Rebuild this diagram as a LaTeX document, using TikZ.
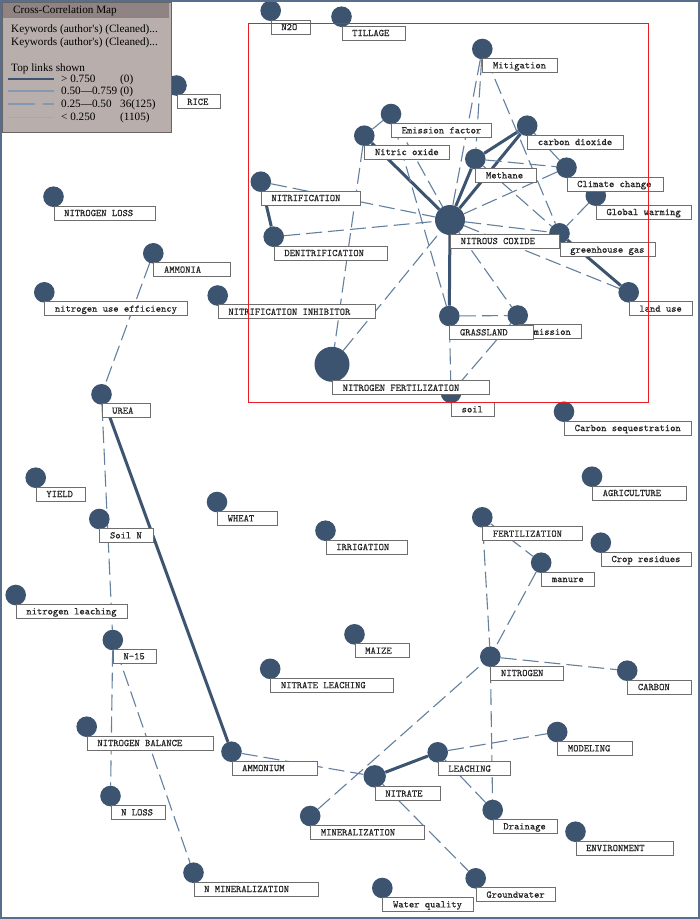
\documentclass[tikz,border=0pt]{standalone}
\usepackage{fontspec}
\newfontfamily\legendfont{Liberation Serif}
\newfontfamily\kwfont[FakeBold=0.6]{lmmono10-regular.otf}
\usetikzlibrary{backgrounds}
\definecolor{nodeblue}{RGB}{61,84,112}
\definecolor{linkblue}{RGB}{100,128,158}
\definecolor{legbg}{RGB}{184,174,172}
\definecolor{legtitle}{RGB}{143,132,131}
\definecolor{legedge}{RGB}{105,100,100}
\definecolor{framec}{RGB}{88,110,140}
\definecolor{boxgray}{RGB}{110,110,110}
\definecolor{redbox}{RGB}{232,30,36}
\tikzset{
  kwdot/.style={circle, fill=nodeblue, inner sep=0pt, minimum size={2*#1}},
  kwbox/.style={draw=boxgray, line width=0.8pt, fill=white, inner sep=0pt, minimum height=14pt, anchor=north west},
  kwtext/.style={anchor=base west, inner sep=0pt, text=black!85, font=\kwfont\fontsize{10.1}{12}\selectfont},
  strong/.style={draw=nodeblue, line width=3pt},
  weak/.style={draw=linkblue, line width=1.1pt, dash pattern=on 16pt off 6pt},
  legtext/.style={anchor=base west, inner sep=0pt, font=\legendfont\fontsize{11.2}{13}\selectfont},
}
\newcommand\kwc[4]{\node[kwdot=#4pt] (#1) at (#2,#3) {};}
\newcommand\kwb[4]{%
  \node[kwbox, minimum width=#3pt] (#1-box) at ([yshift={(1.5-#2)*1pt}]#1.center) {};
  \node[kwtext] (#1-txt) at ([xshift=10.5pt, yshift=-3.2pt]#1-box.west) {#4};}
\begin{document}
\begin{tikzpicture}[x=1pt,y=-1pt]
\useasboundingbox (0,0) rectangle (700,919);
% circles
\kwc{rice}{176.5}{85.5}{10.3}
\kwc{ntwoo}{270.7}{10.7}{10.3}
\kwc{tillage}{341.5}{16.7}{10.3}
\kwc{mitig}{482.3}{49}{10.3}
\kwc{emfac}{391}{114}{10.3}
\kwc{nitric}{364.3}{135.7}{10.3}
\kwc{cotwo}{527.2}{125.7}{10.3}
\kwc{methane}{475.3}{159}{10.3}
\kwc{climate}{566.5}{167.7}{10.3}
\kwc{nitrif}{260.8}{181.7}{10.3}
\kwc{global}{595.8}{195.7}{10.3}
\kwc{nox}{450}{220}{15}
\kwc{ghg}{559.5}{233.3}{10.3}
\kwc{denitrif}{273.7}{236.7}{10.3}
\kwc{landuse}{628.7}{292.3}{10.3}
\kwc{inhib}{217.7}{295.5}{10.3}
\kwc{grass}{449.3}{316}{10.3}
\kwc{emission}{517.7}{315.5}{10.3}
\kwc{nfert}{332}{364.3}{17.5}
\kwc{soil}{451}{393}{10.3}
\kwc{cseq}{564}{411.7}{10.3}
\kwc{agri}{592}{476.7}{10.3}
\kwc{fert}{482.3}{517.3}{10.3}
\kwc{crop}{600.8}{542.7}{10.3}
\kwc{irrig}{325.5}{530.7}{10.3}
\kwc{manure}{541.2}{562.7}{10.3}
\kwc{maize}{354.5}{634.3}{10.3}
\kwc{nitrogen}{490.3}{656.7}{10.3}
\kwc{carbon}{627.2}{670.7}{10.3}
\kwc{nitleach}{270.2}{668.8}{10.3}
\kwc{modeling}{557.2}{732}{10.3}
\kwc{leaching}{437.7}{752.3}{10.3}
\kwc{nitrate}{374.7}{776.3}{11.2}
\kwc{mineral}{310.2}{816}{10.3}
\kwc{drainage}{492.7}{810}{10.3}
\kwc{env}{575.5}{831.7}{10.3}
\kwc{ground}{475.7}{878.3}{10.3}
\kwc{water}{382.3}{888}{10.3}
\kwc{nbal}{86.7}{726.7}{10.3}
\kwc{ammonium}{231.5}{751.7}{10.3}
\kwc{nloss}{110.5}{796}{10.3}
\kwc{nmin}{193.5}{872.7}{10.3}
\kwc{yield}{35.7}{477.7}{10.3}
\kwc{soiln}{99.3}{519}{10.3}
\kwc{wheat}{217}{502}{10.3}
\kwc{nleach}{15.7}{595}{10.3}
\kwc{nfifteen}{112.8}{640}{10.3}
\kwc{nlossup}{53.5}{196.7}{10.3}
\kwc{ammonia}{153.3}{253.3}{10.3}
\kwc{nue}{44.3}{292.3}{10.3}
\kwc{urea}{101.5}{394.3}{10.3}
% links
\begin{pgfonlayer}{background}
\fill[white] (0,0) rectangle (700,919);
\draw[strong] (nitric) -- (nox);
\draw[strong] (methane) -- (nox);
\draw[strong] (cotwo) -- (nox);
\draw[strong] (cotwo) -- (methane);
\draw[strong] (nox) -- (grass);
\draw[strong] (nitrif) -- (denitrif);
\draw[strong] (ghg) -- (landuse);
\draw[strong] (nitrate) -- (leaching);
\draw[strong] (urea) -- (ammonium);
\draw[weak] (emfac) -- (nitric);
\draw[weak] (nitrif) -- (nox);
\draw[weak] (denitrif) -- (nox);
\draw[weak] (nitric) -- (nfert);
\draw[weak] (nfert) -- (nox);
\draw[weak] (emfac) -- (grass);
\draw[weak] (emfac) -- (nox);
\draw[weak] (mitig) -- (nox);
\draw[weak] (mitig) -- (methane);
\draw[weak] (mitig) -- (ghg);
\draw[weak] (cotwo) -- (climate);
\draw[weak] (methane) -- (climate);
\draw[weak] (climate) -- (nox);
\draw[weak] (methane) -- (ghg);
\draw[weak] (global) -- (ghg);
\draw[weak] (nox) -- (ghg);
\draw[weak] (nox) -- (landuse);
\draw[weak] (nox) -- (emission);
\draw[weak] (grass) -- (emission);
\draw[weak] (emission) -- (soil);
\draw[weak] (grass) -- (soil);
\draw[weak] (ammonia) -- (urea);
\draw[weak] (urea) -- (nfifteen);
\draw[weak] (nfifteen) -- (nloss);
\draw[weak] (nfifteen) -- (nmin);
\draw[weak] (ammonium) -- (nitrate);
\draw[weak] (mineral) -- (nitrogen);
\draw[weak] (nitrogen) -- (drainage);
\draw[weak] (fert) -- (nitrogen);
\draw[weak] (manure) -- (nitrogen);
\draw[weak] (fert) -- (manure);
\draw[weak] (nitrogen) -- (carbon);
\draw[weak] (leaching) -- (modeling);
\draw[weak] (leaching) -- (drainage);
\draw[weak] (nitrate) -- (ground);
\end{pgfonlayer}
% label boxes
\kwb{rice}{10.3}{43.5}{RICE}
\kwb{ntwoo}{10.3}{39.3}{N2O}
\kwb{tillage}{10.3}{63}{TILLAGE}
\kwb{mitig}{10.3}{74.4}{Mitigation}
\kwb{emfac}{10.3}{100}{Emission factor}
\kwb{nitric}{10.3}{85}{Nitric oxide}
\kwb{cotwo}{10.3}{95.5}{carbon dioxide}
\kwb{methane}{10.3}{60.7}{Methane}
\kwb{climate}{10.3}{96}{Climate change}
\kwb{nitrif}{10.3}{99}{NITRIFICATION}
\kwb{global}{10.3}{95.3}{Global warming}
\kwb{nox}{15}{109}{NITROUS COXIDE}
\kwb{ghg}{10.3}{95.5}{greenhouse gas}
\kwb{denitrif}{10.3}{113}{DENITRIFICATION}
\kwb{landuse}{10.3}{63.6}{land use}
\kwb{inhib}{10.3}{157.3}{NITRIFICATION INHIBITOR}
\kwb{emission}{10.3}{63.6}{emission}
\kwb{grass}{10.3}{84}{GRASSLAND}
\kwb{nfert}{17.5}{156.7}{NITROGEN FERTILIZATION}
\kwb{soil}{10.3}{43}{soil}
\kwb{cseq}{10.3}{127}{Carbon sequestration}
\kwb{agri}{10.3}{94}{AGRICULTURE}
\kwb{fert}{10.3}{100}{FERTILIZATION}
\kwb{crop}{10.3}{90.2}{Crop residues}
\kwb{irrig}{10.3}{81.8}{IRRIGATION}
\kwb{manure}{10.3}{53.1}{manure}
\kwb{maize}{10.3}{54.5}{MAIZE}
\kwb{nitrogen}{10.3}{73}{NITROGEN}
\kwb{carbon}{10.3}{63.8}{CARBON}
\kwb{nitleach}{10.3}{122.5}{NITRATE LEACHING}
\kwb{modeling}{10.3}{75.1}{MODELING}
\kwb{leaching}{10.3}{72.6}{LEACHING}
\kwb{nitrate}{11.2}{65.6}{NITRATE}
\kwb{mineral}{10.3}{114.1}{MINERALIZATION}
\kwb{drainage}{10.3}{64.3}{Drainage}
\kwb{env}{10.3}{97.2}{ENVIRONMENT}
\kwb{ground}{10.3}{79.6}{Groundwater}
\kwb{water}{10.3}{90.7}{Water quality}
\kwb{nbal}{10.3}{126.6}{NITROGEN BALANCE}
\kwb{ammonium}{10.3}{85.5}{AMMONIUM}
\kwb{nloss}{10.3}{54.8}{N LOSS}
\kwb{nmin}{10.3}{124.2}{N MINERALIZATION}
\kwb{yield}{10.3}{49.3}{YIELD}
\kwb{soiln}{10.3}{54}{Soil N}
\kwb{wheat}{10.3}{59.7}{WHEAT}
\kwb{nleach}{10.3}{111.3}{nitrogen leaching}
\kwb{nfifteen}{10.3}{43}{N-15}
\kwb{nlossup}{10.3}{101.5}{NITROGEN LOSS}
\kwb{ammonia}{10.3}{76.4}{AMMONIA}
\kwb{nue}{10.3}{143}{nitrogen use efficiency}
\kwb{urea}{10.3}{48.2}{UREA}
% red selection frame
\draw[redbox, line width=1.3pt] (248.5,23.3) rectangle (648.3,402.7);
% legend
\draw[fill=legbg, draw=legedge, line width=0.8pt] (2,2) rectangle (171,132.3);
\fill[legtitle] (3,2.5) rectangle (169,17.7);
\node[legtext] (legtitle) at (13,13.7) {Cross-Correlation Map};
\node[legtext] (legkwa) at (11,32) {Keywords (author's) (Cleaned)...};
\node[legtext] (legkwb) at (11,45) {Keywords (author's) (Cleaned)...};
\node[legtext] (legtop) at (11,71.3) {Top links shown};
\coordinate (lsa) at (8,79); \coordinate (lea) at (54,79);
\coordinate (lsb) at (8,91); \coordinate (leb) at (54,91);
\coordinate (lsc) at (8,104); \coordinate (lmc) at (35,104); \coordinate (lnc) at (43,104); \coordinate (lec) at (54,104);
\coordinate (lsd) at (8,117); \coordinate (led) at (54,117);
\draw[draw=nodeblue, line width=2.6pt] (lsa) -- (lea);
\draw[draw=linkblue!80!white, line width=1.4pt] (lsb) -- (leb);
\draw[draw=linkblue!80!white, line width=1.4pt] (lsc) -- (lmc);
\draw[draw=linkblue!80!white, line width=1.4pt] (lnc) -- (lec);
\draw[draw=linkblue!70!white, line width=0.8pt, dash pattern=on 1pt off 1pt] (lsd) -- (led);
\node[legtext] (lga) at (61,82.7) {> 0.750};
\node[legtext] (lgb) at (61,94.7) {0.50—0.759 (0)};
\node[legtext] (lgc) at (61,107.7) {0.25—0.50};
\node[legtext] (lgd) at (61,120.7) {< 0.250};
\node[legtext] (lca) at (120,82.7) {(0)};
\node[legtext] (lcc) at (120,107.7) {36(125)};
\node[legtext] (lcd) at (120,120.7) {(1105)};
% outer frame
\draw[framec, line width=2.2pt] (1.1,1.1) rectangle (698.9,917.9);
\end{tikzpicture}
\end{document}
